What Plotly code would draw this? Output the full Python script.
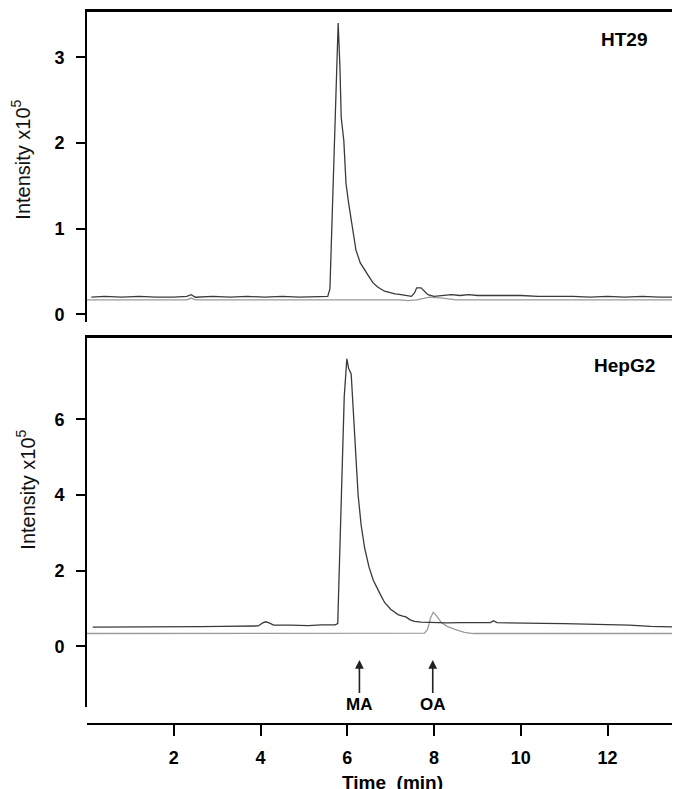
import plotly.graph_objects as go

# ---------------- data ----------------
# HT29 panel: sample trace (dark) and reference trace (grey)
ht29_time = [0.1, 0.4, 0.8, 1.2, 1.6, 2.0, 2.3, 2.4, 2.5, 2.9, 3.3, 3.7, 4.1, 4.5, 4.9, 5.3,
             5.55, 5.6, 5.65, 5.7, 5.75, 5.79, 5.83, 5.86, 5.92, 5.97, 6.03, 6.09, 6.15, 6.2,
             6.3, 6.39, 6.5, 6.59, 6.7, 6.86, 7.0, 7.1, 7.24, 7.35, 7.48, 7.55, 7.6, 7.7,
             7.78, 7.86, 8.0, 8.2, 8.4, 8.6, 8.8, 9.0, 9.3, 9.6, 10.0, 10.4, 10.8, 11.2,
             11.6, 12.0, 12.4, 12.8, 13.2, 13.7]
ht29_sample = [0.20, 0.21, 0.20, 0.21, 0.20, 0.20, 0.21, 0.23, 0.20, 0.21, 0.20, 0.21, 0.20, 0.21, 0.20, 0.21,
               0.21, 0.30, 1.05, 1.90, 2.70, 3.40, 2.90, 2.30, 2.03, 1.53, 1.30, 1.10, 0.92, 0.75,
               0.60, 0.52, 0.44, 0.37, 0.32, 0.27, 0.25, 0.24, 0.23, 0.22, 0.21, 0.25, 0.31, 0.31,
               0.27, 0.23, 0.21, 0.22, 0.23, 0.22, 0.23, 0.22, 0.22, 0.22, 0.22, 0.21, 0.21, 0.21,
               0.20, 0.21, 0.20, 0.21, 0.20, 0.20]
ht29_ref_time = [0.0, 1.0, 2.3, 2.4, 2.5, 4.0, 5.5, 7.2, 7.4, 7.6, 7.9, 8.2, 8.5, 10.0, 12.0, 13.7]
ht29_ref = [0.17, 0.17, 0.17, 0.19, 0.17, 0.17, 0.17, 0.17, 0.16, 0.17, 0.20, 0.19, 0.17, 0.17, 0.17, 0.17]

# HepG2 panel
hepg2_time = [0.13, 0.6, 1.1, 1.6, 2.1, 2.6, 3.1, 3.6, 3.95, 4.05, 4.12, 4.2, 4.3, 4.7, 5.1, 5.4,
              5.6, 5.72, 5.78, 5.86, 5.93, 5.99, 6.03, 6.09, 6.15, 6.2, 6.25, 6.32, 6.4, 6.5,
              6.6, 6.75, 6.86, 7.0, 7.17, 7.28, 7.35, 7.45, 7.55, 7.7, 7.86, 8.0, 8.3, 8.6,
              9.0, 9.3, 9.37, 9.45, 9.7, 10.0, 10.5, 11.0, 11.5, 12.0, 12.5, 13.0, 13.7]
hepg2_sample = [0.51, 0.51, 0.52, 0.51, 0.52, 0.52, 0.53, 0.53, 0.54, 0.62, 0.65, 0.62, 0.56, 0.56, 0.55, 0.57,
                0.56, 0.57, 0.60, 3.96, 6.60, 7.60, 7.35, 7.20, 6.10, 5.00, 4.00, 3.20, 2.60, 2.10,
                1.75, 1.40, 1.16, 0.98, 0.84, 0.80, 0.78, 0.70, 0.66, 0.64, 0.63, 0.62, 0.62, 0.63,
                0.62, 0.63, 0.68, 0.63, 0.62, 0.61, 0.61, 0.60, 0.59, 0.57, 0.56, 0.53, 0.51]
hepg2_ref_time = [0.0, 1.0, 2.0, 3.0, 4.0, 5.0, 6.0, 7.0, 7.78, 7.85, 7.92, 7.98, 8.05, 8.17, 8.3,
                  8.48, 8.6, 8.7, 8.9, 10.0, 11.0, 12.0, 13.0, 13.7]
hepg2_ref = [0.34, 0.34, 0.34, 0.34, 0.34, 0.35, 0.35, 0.35, 0.35, 0.45, 0.75, 0.90, 0.82, 0.63, 0.53,
             0.45, 0.40, 0.37, 0.34, 0.34, 0.34, 0.34, 0.34, 0.34]

x_ticks = [2, 4, 6, 8, 10, 12]
top_y_ticks = [0, 1, 2, 3]
bottom_y_ticks = [0, 2, 4, 6]
peak_labels = ["MA", "OA"]
peak_times = [6.28, 7.97]

# ---------------- figure ----------------
FONT = "Liberation Sans, Arial, Helvetica, sans-serif"
DARK = "#3a3a3a"
GREY = "#9a9a9a"
X_RANGE = [0, 13.67]

fig = go.Figure()
fig.add_trace(go.Scatter(x=ht29_ref_time, y=ht29_ref, mode="lines",
                         line=dict(color=GREY, width=1.3), xaxis="x", yaxis="y", showlegend=False))
fig.add_trace(go.Scatter(x=ht29_time, y=ht29_sample, mode="lines",
                         line=dict(color=DARK, width=1.3), xaxis="x", yaxis="y", showlegend=False))
fig.add_trace(go.Scatter(x=hepg2_ref_time, y=hepg2_ref, mode="lines",
                         line=dict(color=GREY, width=1.3), xaxis="x2", yaxis="y2", showlegend=False))
fig.add_trace(go.Scatter(x=hepg2_time, y=hepg2_sample, mode="lines",
                         line=dict(color=DARK, width=1.3), xaxis="x2", yaxis="y2", showlegend=False))
# carrier for the shared time axis drawn at the bottom
fig.add_trace(go.Scatter(x=[], y=[], mode="lines", xaxis="x3", yaxis="y2", showlegend=False))

tickfont = dict(family=FONT, size=18, color="black", weight="bold")

border_axis = dict(range=X_RANGE, side="top", showline=True, linewidth=3, linecolor="black",
                   ticks="", showticklabels=False, showgrid=False, zeroline=False)
yaxis_common = dict(showline=True, linewidth=2, linecolor="black", ticks="outside", ticklen=9,
                    tickwidth=2, tickcolor="black", tickfont=tickfont, showgrid=False,
                    zeroline=False, ticklabelstandoff=8)

# the page body adds an 8px margin, so the figure is 8px smaller to fit the 680x789 window
fig.update_layout(
    width=672, height=781,
    margin=dict(l=79, r=0, t=4, b=65),
    paper_bgcolor="white", plot_bgcolor="white",
    hovermode=False,
    xaxis=dict(border_axis, anchor="y"),
    xaxis2=dict(border_axis, anchor="y2"),
    xaxis3=dict(range=X_RANGE, overlaying="x2", anchor="free", position=0, side="bottom",
                showline=True, linewidth=2, linecolor="black", ticks="outside", ticklen=11,
                tickwidth=2, tickcolor="black", tickvals=x_ticks, tickfont=tickfont,
                ticklabelstandoff=6, showgrid=False, zeroline=False),
    yaxis=dict(yaxis_common, domain=[0.565, 1.0], range=[-0.086, 3.529], tickvals=top_y_ticks,
               anchor="x"),
    yaxis2=dict(yaxis_common, domain=[0.0239, 0.5421], range=[-1.601, 8.148],
                tickvals=bottom_y_ticks, anchor="x2"),
)

centered = dict(xref="paper", yref="paper", xanchor="center", yanchor="middle", showarrow=False)
ann = []
# panel labels
ann.append(dict(centered, text="HT29", x=0.905, y=0.9607,
                font=dict(family=FONT, size=19, color="black", weight="bold")))
ann.append(dict(centered, text="HepG2", x=0.906, y=0.5035,
                font=dict(family=FONT, size=19, color="black", weight="bold")))
# y titles
ann.append(dict(centered, text="Intensity x10<sup>5</sup>", x=-0.112, y=0.792, textangle=-90,
                font=dict(family=FONT, size=20, color="#111")))
ann.append(dict(centered, text="Intensity x10<sup>5</sup>", x=-0.103, y=0.329, textangle=-90,
                font=dict(family=FONT, size=20, color="#111")))
# x title
ann.append(dict(centered, text="Time\u00a0 (min)", x=0.515, y=-0.0815,
                font=dict(family=FONT, size=19, color="black", weight="bold")))
# peak arrows with their labels at the tail
for lab, t in zip(peak_labels, peak_times):
    ann.append(dict(text=lab, x=t, y=-0.36, xref="x2", yref="y2", ax=0, ay=44,
                    xanchor="center", yanchor="middle",
                    showarrow=True, arrowhead=2, arrowsize=1.1, arrowwidth=1.6,
                    arrowcolor="#222", standoff=0,
                    font=dict(family=FONT, size=17, color="black", weight="bold")))
fig.update_layout(annotations=ann)

fig.write_html("out.html")
